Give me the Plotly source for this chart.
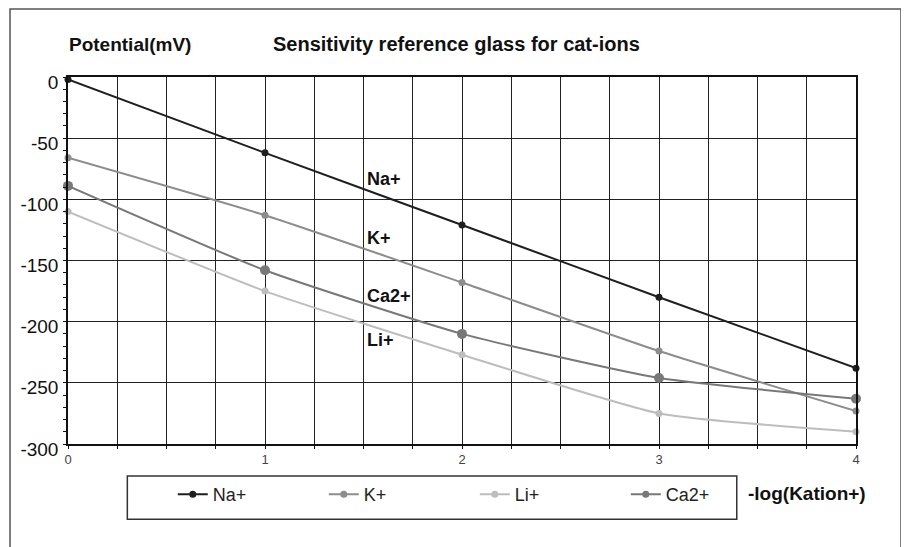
import plotly.graph_objects as go

# -log(cation activity) on the x axis
log_kation = [0, 1, 2, 3, 4]

# electrode potential in mV for each ion
na_mv = [-2, -62, -121, -180, -238]
k_mv = [-66, -113, -168, -224, -273]
li_mv = [-110, -175, -227, -275, -290]
ca_mv = [-89, -158, -210, -246, -263]

y_ticks = [0, -50, -100, -150, -200, -250, -300]
y_tick_text = ['0', '-50', '-100', '-150', '-200', '-250', '-300']

series = [
    ('Na+', na_mv, '#1e1e1e', 7),
    ('K+', k_mv, '#8c8c8c', 7),
    ('Li+', li_mv, '#bdbdbd', 7),
    ('Ca2+', ca_mv, '#787878', 10),
]

FONT = 'Liberation Sans, Arial, sans-serif'

fig = go.Figure()
for name, vals, color, msize in series:
    fig.add_trace(go.Scatter(
        x=log_kation, y=vals, name=name, mode='lines+markers',
        line=dict(color=color, width=2, shape='spline', smoothing=0.5),
        marker=dict(color=color, size=msize),
        cliponaxis=False, legendgroup=name, showlegend=(msize == 7),
    ))
    if msize != 7:
        # legend swatch with the small dot used in the original legend
        fig.add_trace(go.Scatter(
            x=[None], y=[None], name=name, mode='lines+markers',
            line=dict(color=color, width=2), marker=dict(color=color, size=7),
            legendgroup=name,
        ))

# the page body adds an 8px offset, so the figure is 8px smaller and shifted
fig.update_layout(
    width=901, height=539,
    margin=dict(l=60, r=53, t=69, b=103),
    paper_bgcolor='white', plot_bgcolor='white',
    font=dict(family=FONT, size=19, color='#111'),
    showlegend=True,
    legend=dict(
        orientation='h', x=0.133, xanchor='left', y=-0.087, yanchor='top',
        entrywidth=106, font=dict(size=18, color='#222'),
        bgcolor='rgba(0,0,0,0)', itemsizing='trace',
    ),
)

fig.update_xaxes(
    range=[0, 4], tickvals=log_kation, ticktext=[str(v) for v in log_kation],
    showgrid=True, gridcolor='#222', gridwidth=1,
    showline=True, linecolor='#111', linewidth=1.5, mirror=True,
    ticks='outside', ticklen=3, tickcolor='#111',
    tickfont=dict(size=13, color='#444'),
    minor=dict(dtick=0.25, showgrid=True, gridcolor='#222', gridwidth=1,
               ticks='outside', ticklen=3, tickcolor='#111'),
    zeroline=False,
)
fig.update_yaxes(
    range=[-300, 0], tickvals=y_ticks, ticktext=y_tick_text,
    showgrid=True, gridcolor='#222', gridwidth=1,
    showline=True, linecolor='#111', linewidth=1.5, mirror=True,
    ticks='outside', ticklen=3, tickcolor='#111',
    tickfont=dict(size=19, color='#111'), ticklabelshift=5, ticklabelstandoff=1,
    minor=dict(dtick=10, showgrid=False, ticks='outside', ticklen=3, tickcolor='#111'),
    zeroline=False,
)

# outer frame and legend frame
fig.add_shape(type='rect', xref='paper', yref='paper',
              x0=-0.0736, x1=1.0571, y0=-0.35, y1=1.1853,
              line=dict(color='#555', width=1.5), layer='above')
fig.add_shape(type='rect', xref='paper', yref='paper',
              x0=0.0753, x1=0.8487, y0=-0.2052, y1=-0.0872,
              line=dict(color='#333', width=1.5))

# titles
fig.add_annotation(text='<b>Sensitivity reference glass for cat-ions</b>',
                   xref='paper', yref='paper', x=0.4924, y=1.0899,
                   xanchor='center', yanchor='middle', showarrow=False,
                   font=dict(size=20, color='#111'))
fig.add_annotation(text='<b>Potential(mV)</b>',
                   xref='paper', yref='paper', x=-0.0016, y=1.0899,
                   xanchor='left', yanchor='middle', showarrow=False,
                   font=dict(size=19, color='#111'))
fig.add_annotation(text='<b>-log(Kation+)</b>',
                   xref='paper', yref='paper', x=0.861, y=-0.1362,
                   xanchor='left', yanchor='middle', showarrow=False,
                   font=dict(size=19, color='#111'))

# in-plot series labels
for label, ypos in [('Na+', -83.6), ('K+', -132), ('Ca2+', -179), ('Li+', -215)]:
    fig.add_annotation(text=f'<b>{label}</b>', x=1.51, y=ypos,
                       xanchor='left', yanchor='middle', showarrow=False,
                       font=dict(size=18, color='#111'))

fig.write_html('out.html')
